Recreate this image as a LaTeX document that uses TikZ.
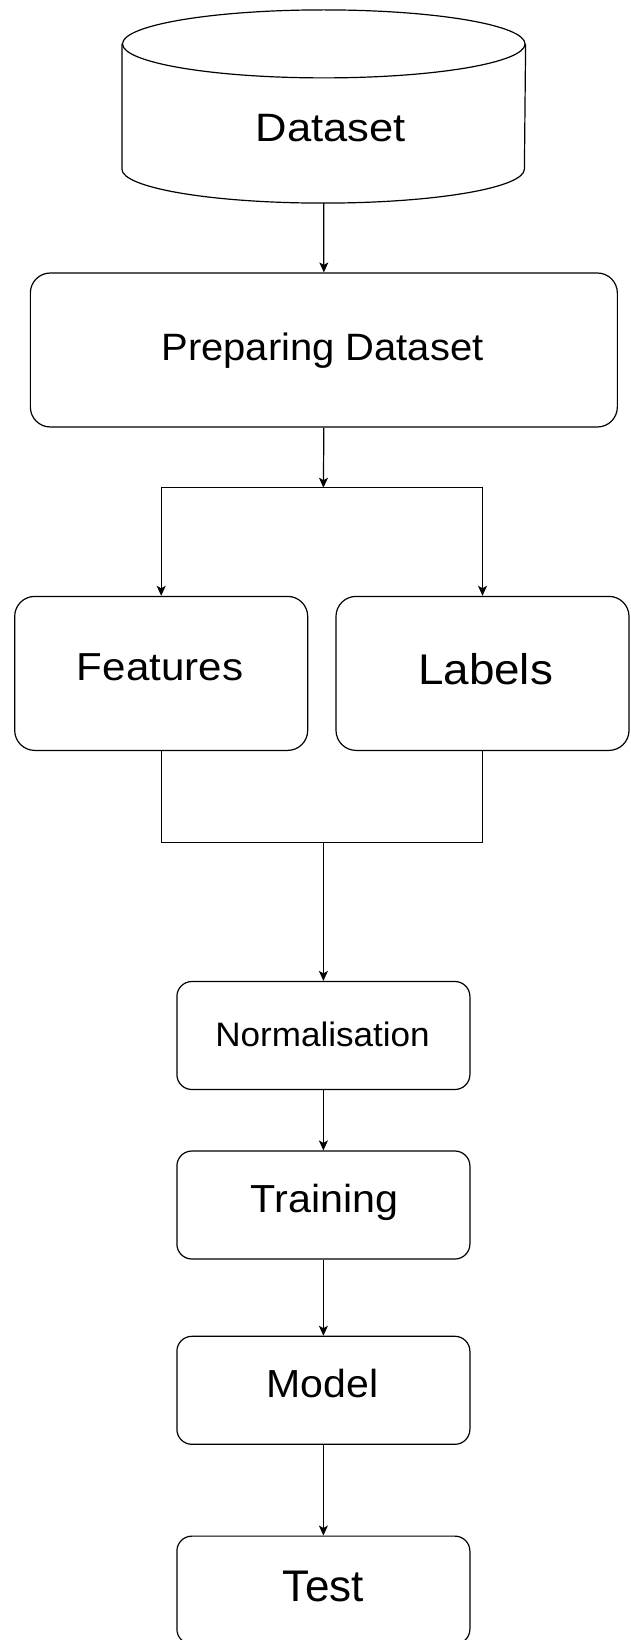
\documentclass[tikz,border=0pt]{standalone}
\usepackage{fontspec}
\usepackage{graphicx}
\setmainfont{Liberation Sans}
\usetikzlibrary{arrows.meta}

% text set at a given size and horizontal stretch
\newcommand{\stxt}[3]{\fontsize{#1}{#1}\selectfont\scalebox{#2}[1]{#3}}

\begin{document}
\begin{tikzpicture}[x=1pt,y=-1pt,
  line width=1.2pt,
  bigbox/.style={draw, rounded corners=20pt, minimum width=#1, minimum height=154pt, inner sep=0pt},
  smallbox/.style={draw, rounded corners=15pt, minimum width=293pt, minimum height=108pt, inner sep=0pt},
  txt/.style={anchor=base, inner sep=0pt},
  arr/.style={-{Stealth[length=10pt,width=9pt,inset=2.5pt]}}]

\useasboundingbox (0,0) rectangle (630,1640);

% database cylinder
\node[minimum width=402.5pt, minimum height=192pt, inner sep=0pt] (dataset) at (323.75,106.5) {};
\draw ([yshift=-34pt]dataset.north west) -- ([yshift=34pt]dataset.south west)
  arc[start angle=180, end angle=360, x radius=201.25pt, y radius=34pt]
  -- ([yshift=-34pt]dataset.north east);
\draw ([yshift=-34pt]dataset.north) ellipse[x radius=201.25pt, y radius=34pt];
\node[txt] (dataset-t) at (331,142) {\stxt{39.6}{1.10}{Dataset}};

% processing boxes
\node[bigbox=587pt] (prep) at (323.85,350) {};
\node[txt] (prep-t) at (322.5,360) {\stxt{38.1}{1.049}{Preparing Dataset}};

\node[bigbox=293pt] (feat) at (161.2,673.4) {};
\node[txt] (feat-t) at (160,680) {\stxt{39}{1.08}{Features}};

\node[bigbox=293pt] (lab) at (482.5,673.4) {};
\node[txt] (lab-t) at (485.6,684) {\stxt{42.9}{1.068}{Labels}};

\node[smallbox] (norm) at (323.4,1035.5) {};
\node[txt] (norm-t) at (322.5,1046) {\stxt{33.9}{1.035}{Normalisation}};

\node[smallbox] (train) at (323.4,1205) {};
\node[txt] (train-t) at (324.5,1212.3) {\stxt{39.1}{1.055}{Training}};

\node[smallbox] (model) at (323.4,1390.3) {};
\node[txt] (model-t) at (322.5,1397.3) {\stxt{39.1}{1.05}{Model}};

\node[smallbox] (test) at (323.4,1590.1) {};
\node[txt] (test-t) at (323.4,1601.7) {\stxt{44.3}{0.995}{Test}};

% connectors
\coordinate (split) at (323.4,487.7);
\coordinate (merge) at (323.4,842.4);

\draw[arr] (dataset.south) -- (prep.north);
\draw[arr] (prep.south) -- (split);
\draw (split -| feat.north) -- (split -| lab.north);
\draw[arr] (split -| feat.north) -- (feat.north);
\draw[arr] (split -| lab.north) -- (lab.north);

\draw (feat.south) |- (merge) -| (lab.south);
\draw[arr] (merge) -- (norm.north);

\draw[arr] (norm.south) -- (train.north);
\draw[arr] (train.south) -- (model.north);
\draw[arr] (model.south) -- (test.north);
\end{tikzpicture}
\end{document}
